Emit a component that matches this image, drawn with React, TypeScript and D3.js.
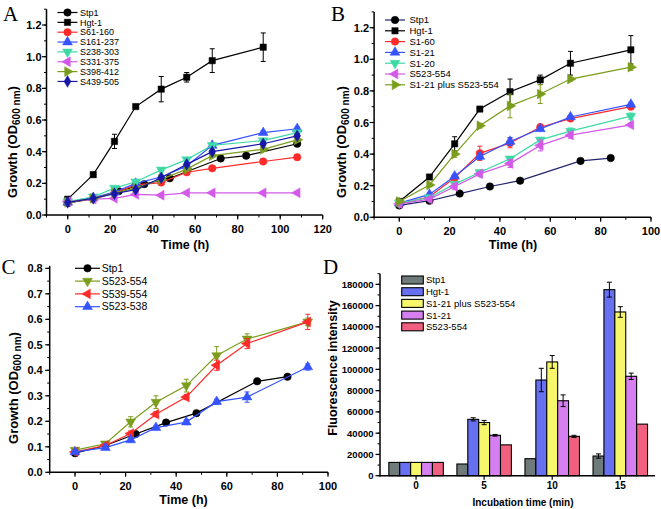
import React from 'react';
import * as d3 from 'd3';

// ---------- DATA ----------
const stp1Times = [0, 12, 24, 36, 48, 72, 84, 108];
const stp1Values = [0.075, 0.105, 0.15, 0.195, 0.232, 0.357, 0.375, 0.45];
const stp1TimesShort = [0, 12, 24, 36, 48, 72, 84];
const stp1ValuesShort = [0.075, 0.105, 0.15, 0.195, 0.232, 0.357, 0.375];

const hgtTimes = [0, 12, 22, 32, 44, 56, 68, 92];
const hgtValues = [0.1, 0.255, 0.465, 0.685, 0.795, 0.87, 0.975, 1.06];
const hgtErrors = [0.01, 0.015, 0.045, 0.01, 0.08, 0.03, 0.075, 0.09];

const timesA = [0, 12, 22, 32, 44, 56, 68, 92, 108];
const s61_160 = [0.08, 0.1, 0.14, 0.19, 0.205, 0.27, 0.295, 0.338, 0.365];
const s61_160Err = [0.005, 0.006, 0.01, 0.01, 0.01, 0.01, 0.01, 0.015, 0.015];
const s161_237 = [0.08, 0.11, 0.145, 0.2, 0.24, 0.31, 0.44, 0.52, 0.545];
const s161_237Err = [0.005, 0.006, 0.008, 0.01, 0.01, 0.012, 0.01, 0.012, 0.012];
const s238_303 = [0.085, 0.115, 0.17, 0.21, 0.285, 0.35, 0.44, 0.47, 0.52];
const s238_303Err = [0.005, 0.006, 0.008, 0.01, 0.012, 0.01, 0.01, 0.012, 0.012];
const s331_375 = [0.085, 0.1, 0.105, 0.13, 0.125, 0.14, 0.14, 0.14, 0.14];
const s331_375Err = [0.004, 0.005, 0.006, 0.006, 0.006, 0.006, 0.005, 0.006, 0.006];
const s398_412 = [0.08, 0.105, 0.14, 0.17, 0.225, 0.29, 0.375, 0.415, 0.475];
const s398_412Err = [0.005, 0.006, 0.008, 0.01, 0.01, 0.01, 0.01, 0.012, 0.012];
const s439_505 = [0.08, 0.105, 0.135, 0.16, 0.235, 0.32, 0.4, 0.45, 0.5];
const s439_505Err = [0.005, 0.006, 0.008, 0.01, 0.01, 0.012, 0.012, 0.012, 0.012];

const timesB = [0, 12, 22, 32, 44, 56, 68, 92];
const s1_60 = [0.085, 0.13, 0.25, 0.405, 0.47, 0.57, 0.625, 0.7];
const s1_60Err = [0.005, 0.01, 0.015, 0.045, 0.03, 0.02, 0.012, 0.012];
const s1_21 = [0.09, 0.145, 0.26, 0.385, 0.48, 0.56, 0.635, 0.715];
const s1_21Err = [0.005, 0.01, 0.012, 0.02, 0.025, 0.012, 0.01, 0.012];
const s1_20 = [0.09, 0.125, 0.21, 0.285, 0.37, 0.49, 0.545, 0.64];
const s1_20Err = [0.005, 0.008, 0.012, 0.012, 0.015, 0.012, 0.02, 0.02];
const s523_554B = [0.085, 0.115, 0.195, 0.275, 0.34, 0.455, 0.52, 0.585];
const s523_554BErr = [0.005, 0.008, 0.02, 0.015, 0.025, 0.035, 0.02, 0.012];
const s1_21plus = [0.1, 0.205, 0.4, 0.58, 0.705, 0.78, 0.875, 0.95];
const s1_21plusErr = [0.01, 0.01, 0.02, 0.015, 0.075, 0.06, 0.012, 0.02];

const s523_554C = [0.087, 0.112, 0.198, 0.275, 0.34, 0.458, 0.523, 0.59];
const s523_554CErr = [0.005, 0.006, 0.02, 0.025, 0.025, 0.035, 0.02, 0.015];
const s539_554 = [0.08, 0.105, 0.152, 0.228, 0.295, 0.42, 0.505, 0.59];
const s539_554Err = [0.005, 0.006, 0.01, 0.01, 0.01, 0.02, 0.02, 0.03];
const s523_538 = [0.08, 0.097, 0.127, 0.175, 0.197, 0.277, 0.295, 0.413];
const s523_538Err = [0.004, 0.005, 0.008, 0.008, 0.01, 0.01, 0.02, 0.012];

const barCategories = ['0', '5', '10', '15'];
const barSeriesNames = ['Stp1', 'Hgt-1', 'S1-21 plus S523-554', 'S1-21', 'S523-554'];
const barStp1 = [12500, 11000, 16000, 18500];
const barHgt = [12500, 53000, 90000, 175000];
const barPlus = [12500, 50000, 107000, 154000];
const barS1_21 = [12500, 38000, 70500, 93500];
const barS523 = [12500, 29000, 37000, 48500];
const barStp1Err = [0, 0, 0, 2000];
const barHgtErr = [0, 1500, 11000, 7000];
const barPlusErr = [0, 2000, 6000, 5000];
const barS1_21Err = [0, 800, 5500, 3000];
const barS523Err = [0, 0, 1000, 0];

const ticksX120 = [0, 20, 40, 60, 80, 100, 120];
const ticksX100 = [0, 20, 40, 60, 80, 100];
const ticksY12 = [0, 0.2, 0.4, 0.6, 0.8, 1.0, 1.2];
const ticksY08 = [0, 0.1, 0.2, 0.3, 0.4, 0.5, 0.6, 0.7, 0.8];
const ticksYBar = [0, 20000, 40000, 60000, 80000, 100000, 120000, 140000, 160000, 180000];

// ---------- STYLE ----------
const BLACK = '#000000';
const RED = '#ff2a2a';
const BLUE = '#3553ff';
const TEAL = '#3fd9a6';
const MAGENTA = '#d35ae8';
const OLIVE = '#7b9d1c';
const NAVY = '#1818a8';
const FONT = '"Liberation Sans", Arial, sans-serif';
const SERIF = '"Liberation Serif", "Times New Roman", serif';

type Shape = 'circle' | 'square' | 'up' | 'down' | 'left' | 'right' | 'diamond';
interface Series { name: string; color: string; line?: string; shape: Shape; x: number[]; y: number[]; e?: number[] }

function symbolFor(shape: Shape) {
  switch (shape) {
    case 'circle': return { d: d3.symbol(d3.symbolCircle, 44)(), r: 0 };
    case 'square': return { d: d3.symbol(d3.symbolSquare, 40)(), r: 0 };
    case 'diamond': return { d: d3.symbol(d3.symbolDiamond, 40)(), r: 0 };
    case 'up': return { d: d3.symbol(d3.symbolTriangle, 42)(), r: 0 };
    case 'down': return { d: d3.symbol(d3.symbolTriangle, 42)(), r: 180 };
    case 'left': return { d: d3.symbol(d3.symbolTriangle, 42)(), r: -90 };
    case 'right': return { d: d3.symbol(d3.symbolTriangle, 42)(), r: 90 };
  }
}

function Marker({ shape, color, x, y }: { shape: Shape; color: string; x: number; y: number }) {
  const s = symbolFor(shape)!;
  return <path d={s.d as string} transform={`translate(${x},${y}) rotate(${s.r})`} fill={color} stroke={color} strokeWidth={0.5} />;
}

interface LinePanelProps {
  xDomain: [number, number]; xRange: [number, number];
  yDomain: [number, number]; yRange: [number, number];
  xTicks: number[]; yTicks: number[]; xMinorStep: number; yMinorStep: number;
  yFmt: (v: number) => string;
  series: Series[];
  legend: { x1: number; x2: number; mx: number; tx: number; y0: number; dy: number; fs: number };
  yLabelOffset: number;
  xTitle: { x: number; y: number };
  yTitle: { x: number; y: number };
  letter: { t: string; x: number; y: number };
}

function LinePanel(p: LinePanelProps) {
  const x = d3.scaleLinear().domain(p.xDomain).range(p.xRange);
  const y = d3.scaleLinear().domain(p.yDomain).range(p.yRange);
  const xMinor = d3.range(Math.ceil(p.xDomain[0] / p.xMinorStep) * p.xMinorStep, p.xDomain[1] + 1e-9, p.xMinorStep);
  const yMinor = d3.range(0, p.yDomain[1] + 1e-9, p.yMinorStep);
  const line = d3.line<[number, number]>().x(d => x(d[0])).y(d => y(d[1]));
  const x0 = p.xRange[0], y0 = p.yRange[0];
  return (
    <g>
      {p.series.map((s, i) => {
        const pts = s.x.map((t, k) => [t, s.y[k]] as [number, number]);
        return (
          <g key={i}>
            <path d={line(pts) as string} fill="none" stroke={s.line || s.color} strokeWidth={1.2} />
            {s.e && s.x.map((t, k) => {
              const e = s.e![k];
              if (!e) return null;
              const cx = x(t), ya = y(s.y[k] + e), yb = y(s.y[k] - e);
              return (
                <g key={k} stroke={s.color} strokeWidth={1}>
                  <line x1={cx} x2={cx} y1={ya} y2={yb} />
                  <line x1={cx - 2.5} x2={cx + 2.5} y1={ya} y2={ya} />
                  <line x1={cx - 2.5} x2={cx + 2.5} y1={yb} y2={yb} />
                </g>
              );
            })}
            {s.x.map((t, k) => <Marker key={k} shape={s.shape} color={s.color} x={x(t)} y={y(s.y[k])} />)}
          </g>
        );
      })}
      {/* axes */}
      <line x1={x0} x2={x0} y1={y0 + 0.75} y2={p.yRange[1]} stroke="#000" strokeWidth={1.5} />
      <line x1={x0 - 0.75} x2={p.xRange[1]} y1={y0} y2={y0} stroke="#000" strokeWidth={1.5} />
      {xMinor.map((t, i) => <line key={'xm' + i} x1={x(t)} x2={x(t)} y1={y0} y2={y0 + 2.5} stroke="#000" strokeWidth={1} />)}
      {p.xTicks.map((t, i) => (
        <g key={'xt' + i}>
          <line x1={x(t)} x2={x(t)} y1={y0} y2={y0 + 4.5} stroke="#000" strokeWidth={1.2} />
          <text x={x(t)} y={y0 + 18} textAnchor="middle" fontSize={11} fontWeight="bold" fontFamily={FONT}>{t}</text>
        </g>
      ))}
      {yMinor.map((t, i) => <line key={'ym' + i} x1={x0} x2={x0 - 2.5} y1={y(t)} y2={y(t)} stroke="#000" strokeWidth={1} />)}
      {p.yTicks.map((t, i) => (
        <g key={'yt' + i}>
          <line x1={x0} x2={x0 - 4.5} y1={y(t)} y2={y(t)} stroke="#000" strokeWidth={1.2} />
          <text x={x0 - p.yLabelOffset} y={y(t) + 4} textAnchor="end" fontSize={11} fontWeight="bold" fontFamily={FONT}>{p.yFmt(t)}</text>
        </g>
      ))}
      <text x={p.xTitle.x} y={p.xTitle.y} textAnchor="middle" fontSize={12.5} fontWeight="bold" fontFamily={FONT}>Time (h)</text>
      <text transform={`translate(${p.yTitle.x},${p.yTitle.y}) rotate(-90)`} textAnchor="middle" fontSize={13} fontWeight="bold" fontFamily={FONT}>
        <tspan>Growth (OD</tspan><tspan fontSize={10} dy={3}>600 nm</tspan><tspan dy={-3}>)</tspan>
      </text>
      {/* legend */}
      {p.series.map((s, i) => {
        const ly = p.legend.y0 + i * p.legend.dy;
        return (
          <g key={'lg' + i}>
            <line x1={p.legend.x1} x2={p.legend.x2} y1={ly} y2={ly} stroke={s.line || s.color} strokeWidth={1.2} />
            <Marker shape={s.shape} color={s.color} x={p.legend.mx} y={ly} />
            <text x={p.legend.tx} y={ly + p.legend.fs * 0.36} fontSize={p.legend.fs} fontFamily={FONT}>{s.name}</text>
          </g>
        );
      })}
      <text x={p.letter.x} y={p.letter.y} fontSize={21} fontFamily={SERIF}>{p.letter.t}</text>
    </g>
  );
}

const seriesA: Series[] = [
  { name: 'Stp1', color: BLACK, shape: 'circle', x: stp1Times, y: stp1Values },
  { name: 'Hgt-1', color: BLACK, shape: 'square', x: hgtTimes, y: hgtValues, e: hgtErrors },
  { name: 'S61-160', color: RED, shape: 'circle', x: timesA, y: s61_160, e: s61_160Err },
  { name: 'S161-237', color: BLUE, shape: 'up', x: timesA, y: s161_237, e: s161_237Err },
  { name: 'S238-303', color: TEAL, shape: 'down', x: timesA, y: s238_303, e: s238_303Err },
  { name: 'S331-375', color: MAGENTA, shape: 'left', x: timesA, y: s331_375, e: s331_375Err },
  { name: 'S398-412', color: OLIVE, shape: 'right', x: timesA, y: s398_412, e: s398_412Err },
  { name: 'S439-505', color: NAVY, shape: 'diamond', x: timesA, y: s439_505, e: s439_505Err },
];

const seriesB: Series[] = [
  { name: 'Stp1', color: BLACK, line: '#23236e', shape: 'circle', x: stp1TimesShort, y: stp1ValuesShort },
  { name: 'Hgt-1', color: BLACK, shape: 'square', x: hgtTimes, y: hgtValues, e: hgtErrors },
  { name: 'S1-60', color: RED, shape: 'circle', x: timesB, y: s1_60, e: s1_60Err },
  { name: 'S1-21', color: BLUE, shape: 'up', x: timesB, y: s1_21, e: s1_21Err },
  { name: 'S1-20', color: TEAL, shape: 'down', x: timesB, y: s1_20, e: s1_20Err },
  { name: 'S523-554', color: MAGENTA, shape: 'left', x: timesB, y: s523_554B, e: s523_554BErr },
  { name: 'S1-21 plus S523-554', color: OLIVE, shape: 'right', x: timesB, y: s1_21plus, e: s1_21plusErr },
];

const seriesC: Series[] = [
  { name: 'Stp1', color: BLACK, shape: 'circle', x: stp1TimesShort, y: stp1ValuesShort },
  { name: 'S523-554', color: OLIVE, shape: 'down', x: timesB, y: s523_554C, e: s523_554CErr },
  { name: 'S539-554', color: RED, shape: 'left', x: timesB, y: s539_554, e: s539_554Err },
  { name: 'S523-538', color: BLUE, shape: 'up', x: timesB, y: s523_538, e: s523_538Err },
];

const barColors = ['#6f7a7a', '#6670f0', '#f6f76a', '#d57ff0', '#f2607f'];

function BarPanel() {
  const values = [barStp1, barHgt, barPlus, barS1_21, barS523];
  const errors = [barStp1Err, barHgtErr, barPlusErr, barS1_21Err, barS523Err];
  const xc = d3.scaleLinear().domain([-0.53, 3.51]).range([380, 655]);
  const y = d3.scaleLinear().domain([0, 190000]).range([475.7, 273.7]);
  const bw = 10.9;
  const inner = d3.scaleBand().domain(barSeriesNames).range([-2.5 * bw, 2.5 * bw]).padding(0);
  const y0 = y(0);
  const yMinor = d3.range(0, 190001, 10000);
  return (
    <g>
      {barCategories.map((c, ci) => (
        <g key={c}>
          {barSeriesNames.map((n, si) => {
            const bx = xc(ci) + (inner(n) as number);
            const v = values[si][ci];
            return <rect key={n} x={bx} y={y(v)} width={inner.bandwidth()} height={y0 - y(v)} fill={barColors[si]} stroke="#000" strokeWidth={1.1} />;
          })}
          {barSeriesNames.map((n, si) => {
            const e = errors[si][ci];
            if (!e) return null;
            const cx = xc(ci) + (inner(n) as number) + inner.bandwidth() / 2;
            const v = values[si][ci];
            const ya = y(v + e), yb = y(v - e);
            return (
              <g key={'e' + n} stroke="#000" strokeWidth={1}>
                <line x1={cx} x2={cx} y1={ya} y2={yb} />
                <line x1={cx - 2.5} x2={cx + 2.5} y1={ya} y2={ya} />
                <line x1={cx - 2.5} x2={cx + 2.5} y1={yb} y2={yb} />
              </g>
            );
          })}
        </g>
      ))}
      <line x1={380} x2={380} y1={y0 + 0.75} y2={y(190000)} stroke="#000" strokeWidth={1.5} />
      <line x1={379.25} x2={655} y1={y0} y2={y0} stroke="#000" strokeWidth={1.5} />
      {yMinor.map((t, i) => <line key={'m' + i} x1={380} x2={377.5} y1={y(t)} y2={y(t)} stroke="#000" strokeWidth={1} />)}
      {ticksYBar.map((t, i) => (
        <g key={'t' + i}>
          <line x1={380} x2={375.5} y1={y(t)} y2={y(t)} stroke="#000" strokeWidth={1.2} />
          <text x={373.5} y={y(t) + 3.5} textAnchor="end" fontSize={9.5} fontWeight="bold" fontFamily={FONT}>{t}</text>
        </g>
      ))}
      {barCategories.map((c, ci) => (
        <g key={'x' + c}>
          <line x1={xc(ci)} x2={xc(ci)} y1={y0} y2={y0 + 4} stroke="#000" strokeWidth={1.2} />
          <text x={xc(ci)} y={489} textAnchor="middle" fontSize={10} fontWeight="bold" fontFamily={FONT}>{c}</text>
        </g>
      ))}
      <text x={523} y={506} textAnchor="middle" fontSize={10} fontWeight="bold" fontFamily={FONT}>Incubation time (min)</text>
      <text transform="translate(336.5,368) rotate(-90)" textAnchor="middle" fontSize={12.5} fontWeight="bold" fontFamily={FONT}>Fluorescence intensity</text>
      {barSeriesNames.map((n, i) => {
        const ly = 280 + i * 11.7;
        return (
          <g key={'l' + n}>
            <rect x={401.7} y={ly - 4} width={21.6} height={8} fill={barColors[i]} stroke="#000" strokeWidth={1.1} />
            <text x={426} y={ly + 3.4} fontSize={9.5} fontFamily={FONT}>{n}</text>
          </g>
        );
      })}
      <text x={323} y={274} fontSize={21} fontFamily={SERIF}>D</text>
    </g>
  );
}

const fmt1 = (v: number) => v.toFixed(1);

export default function App() {
  return (
    <svg width={661} height={509} style={{ position: 'absolute', left: 0, top: 0, background: '#fff' }}>
      <rect width={661} height={509} fill="#fff" />
      <LinePanel
        xDomain={[-10, 120]} xRange={[46.5, 322.7]}
        yDomain={[0, 1.3]} yRange={[215, 9.2]}
        xTicks={ticksX120} yTicks={ticksY12} xMinorStep={10} yMinorStep={0.1} yFmt={fmt1}
        series={seriesA}
        legend={{ x1: 57.5, x2: 77.5, mx: 67.5, tx: 80, y0: 12.5, dy: 9.85, fs: 9 }}
        yLabelOffset={5}
        xTitle={{ x: 185, y: 249 }} yTitle={{ x: 16.5, y: 142 }}
        letter={{ t: 'A', x: 3, y: 21 }}
      />
      <LinePanel
        xDomain={[-10, 100]} xRange={[374.1, 651]}
        yDomain={[0, 1.3]} yRange={[217.3, 11.9]}
        xTicks={ticksX100} yTicks={ticksY12} xMinorStep={10} yMinorStep={0.1} yFmt={fmt1}
        series={seriesB}
        legend={{ x1: 385, x2: 405, mx: 395, tx: 409.5, y0: 20, dy: 10.8, fs: 9.5 }}
        yLabelOffset={5}
        xTitle={{ x: 513, y: 249 }} yTitle={{ x: 345.5, y: 142 }}
        letter={{ t: 'B', x: 331, y: 20.5 }}
      />
      <LinePanel
        xDomain={[-10, 100]} xRange={[49.7, 328]}
        yDomain={[0, 0.81]} yRange={[472.3, 265.8]}
        xTicks={ticksX100} yTicks={ticksY08} xMinorStep={10} yMinorStep={0.05} yFmt={fmt1}
        series={seriesC}
        legend={{ x1: 75, x2: 100, mx: 87.5, tx: 101.7, y0: 268.3, dy: 12.8, fs: 10.5 }}
        yLabelOffset={7}
        xTitle={{ x: 183.5, y: 504 }} yTitle={{ x: 17.5, y: 388 }}
        letter={{ t: 'C', x: 1.5, y: 274 }}
      />
      <BarPanel />
    </svg>
  );
}
